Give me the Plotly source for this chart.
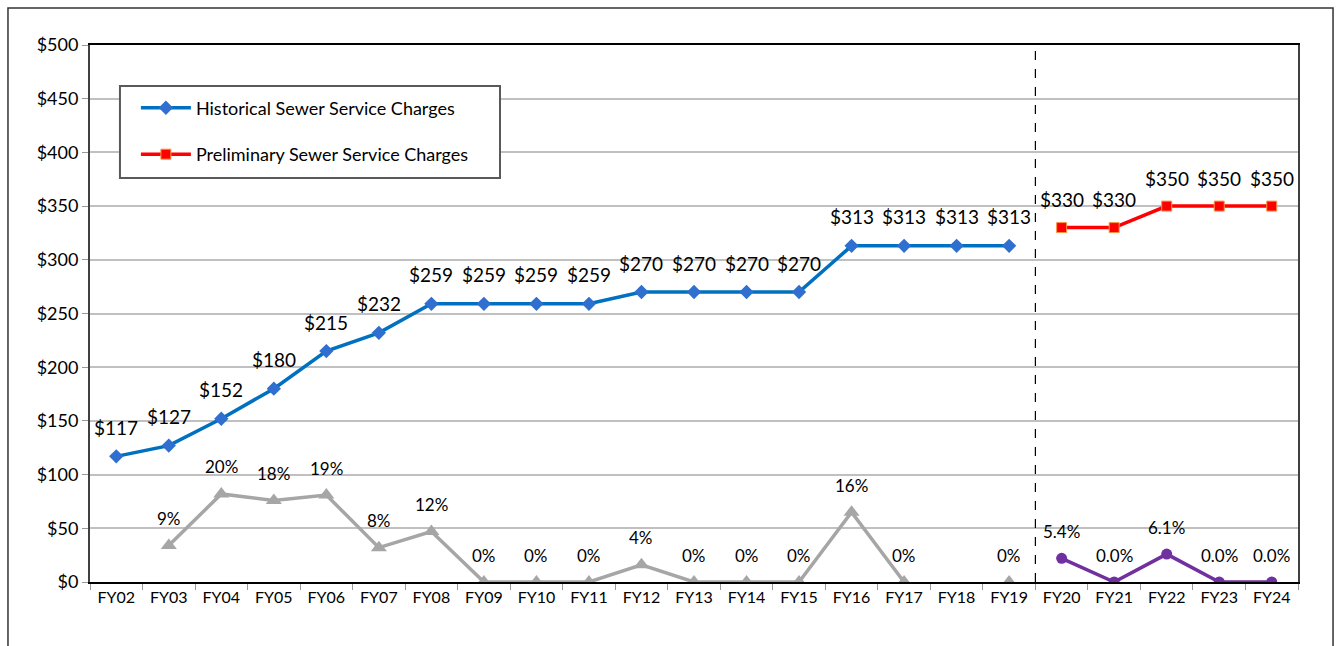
import plotly.graph_objects as go

years = ["FY02","FY03","FY04","FY05","FY06","FY07","FY08","FY09","FY10","FY11","FY12",
         "FY13","FY14","FY15","FY16","FY17","FY18","FY19","FY20","FY21","FY22","FY23","FY24"]
hist_years = years[:18]
hist_vals = [117,127,152,180,215,232,259,259,259,259,270,270,270,270,313,313,313,313]
hist_labels = ["$117","$127","$152","$180","$215","$232","$259","$259","$259","$259",
               "$270","$270","$270","$270","$313","$313","$313","$313"]
prelim_years = years[18:]
prelim_vals = [330,330,350,350,350]
prelim_labels = ["$330","$330","$350","$350","$350"]

hist_pct_years = years[1:18]
hist_pct_vals = [34,82,76,81,32,47,0,0,0,16,0,0,0,65,0,None,0]
hist_pct_labels = ["9%","20%","18%","19%","8%","12%","0%","0%","0%","4%","0%","0%","0%","16%","0%","","0%"]
prelim_pct_vals = [22,0,26,0,0]
prelim_pct_labels = ["5.4%","0.0%","6.1%","0.0%","0.0%"]

FONT = "Lato"
fig = go.Figure()

fig.add_trace(go.Scatter(x=hist_years, y=hist_vals, mode="lines+markers",
    name="Historical Sewer Service Charges", legendgroup="a",
    line=dict(color="#0070C0", width=3.5),
    marker=dict(symbol="diamond", size=11, color="#2F6FCF")))
fig.add_trace(go.Scatter(x=prelim_years, y=prelim_vals, mode="lines+markers",
    name="Preliminary Sewer Service Charges", legendgroup="b",
    line=dict(color="#FF0000", width=3.5),
    marker=dict(symbol="square", size=10, color="#FF0000", line=dict(color="#F79646", width=1))))
fig.add_trace(go.Scatter(x=hist_pct_years, y=hist_pct_vals, mode="lines+markers",
    showlegend=False, connectgaps=False,
    line=dict(color="#A6A6A6", width=3.5),
    marker=dict(symbol="triangle-up", size=14, color="#A6A6A6")))
fig.add_trace(go.Scatter(x=prelim_years, y=prelim_pct_vals, mode="lines+markers",
    showlegend=False,
    line=dict(color="#7030A0", width=3.5),
    marker=dict(symbol="circle", size=11, color="#7030A0")))

annots = []
def add_labels(xs, ys, labels, size, shift):
    for x, y, t in zip(xs, ys, labels):
        if y is None or not t:
            continue
        annots.append(dict(x=x, y=y, text=t, showarrow=False, yshift=shift,
                           font=dict(family=FONT, size=size, color="#000000")))

add_labels(hist_years, hist_vals, hist_labels, 19, 29)
add_labels(prelim_years, prelim_vals, prelim_labels, 19, 28)
add_labels(hist_pct_years, hist_pct_vals, hist_pct_labels, 17, 27)
add_labels(prelim_years, prelim_pct_vals, prelim_pct_labels, 17, 27)

split_pos = years.index("FY20") - 0.5
fig.add_shape(type="line", xref="x", yref="paper", x0=split_pos, x1=split_pos, y0=0, y1=1,
              line=dict(color="black", width=1.2, dash="dash"))
# outer chart border
fig.add_shape(type="rect", xref="paper", yref="paper", x0=-0.0679, x1=1.0290, y0=-0.3, y1=1.069,
              line=dict(color="#333333", width=1.5), layer="below")
# legend frame
fig.add_shape(type="rect", xref="paper", yref="paper", x0=0.0248, x1=0.3394, y0=0.7523, y1=0.9236,
              line=dict(color="#595959", width=2), fillcolor="white", layer="above")

fig.update_layout(
    width=1337, height=646,
    margin=dict(l=90, r=39, t=45, b=64),
    plot_bgcolor="white", paper_bgcolor="white",
    font=dict(family=FONT, size=18, color="#000000"),
    annotations=annots,
    legend=dict(x=0.038, y=0.917, xanchor="left", yanchor="top",
                bgcolor="rgba(0,0,0,0)", borderwidth=0,
                font=dict(family=FONT, size=18), tracegroupgap=20,
                itemwidth=50),
    showlegend=True,
)
fig.update_xaxes(type="category", categoryorder="array", categoryarray=years,
                 range=[-0.5, len(years) - 0.5],
                 tickson="boundaries", ticks="outside", ticklen=6, tickcolor="#999999",
                 showgrid=False, showline=True, linecolor="black", linewidth=2, mirror=True,
                 tickfont=dict(family=FONT, size=16))
fig.update_yaxes(range=[0, 500], dtick=50, tickprefix="$",
                 ticks="outside", ticklen=6, tickcolor="#999999",
                 showgrid=True, gridcolor="#C0C0C0", gridwidth=1.5,
                 showline=True, linecolor="#404040", linewidth=2, mirror=True,
                 zeroline=False, tickfont=dict(family=FONT, size=18))

fig.write_html("out.html")
